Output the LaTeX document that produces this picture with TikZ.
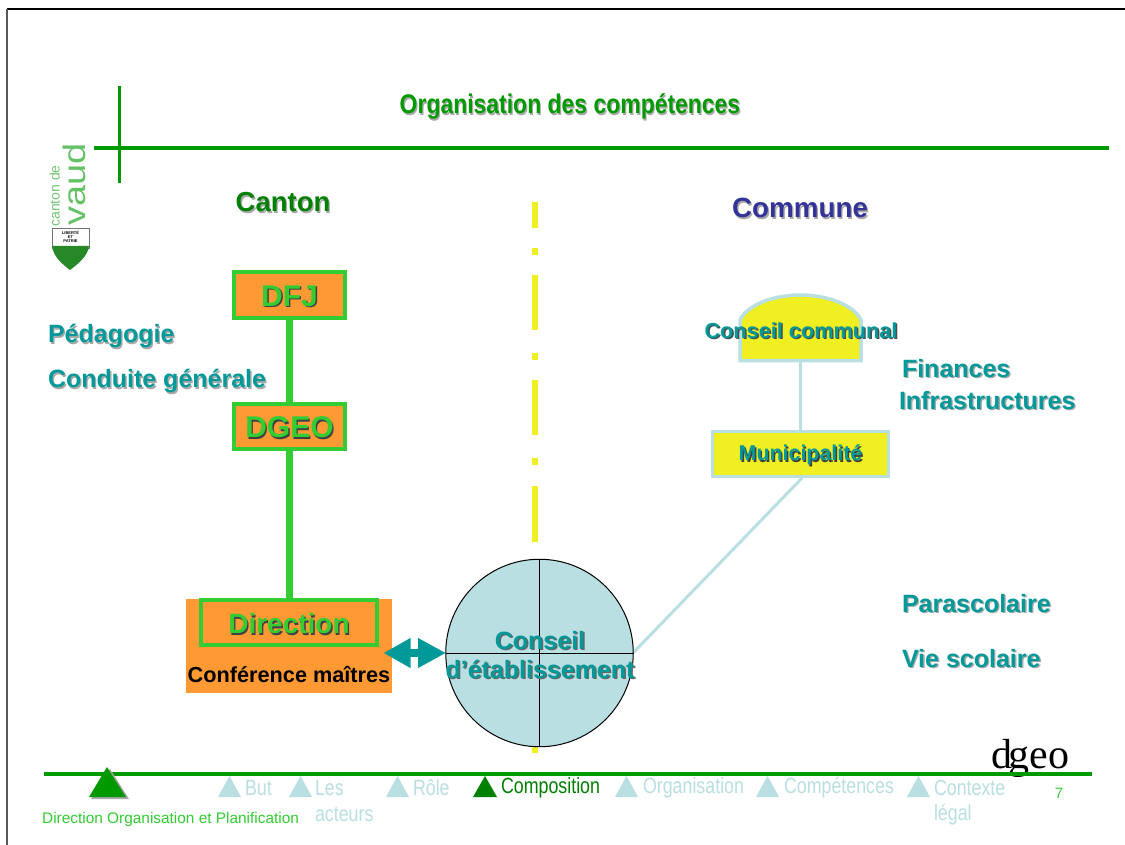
\documentclass[tikz,border=0pt]{standalone}
\usepackage{fontspec}
\usepackage{graphicx}
\setmainfont{Liberation Sans}
\newfontfamily\dgeofont{Liberation Serif}
\usetikzlibrary{arrows.meta}
\definecolor{gtitle}{HTML}{009900}
\definecolor{gdark}{HTML}{008000}
\definecolor{glight}{HTML}{33CC33}
\definecolor{teal1}{HTML}{009999}
\definecolor{pale}{HTML}{B9DFE3}
\definecolor{orange1}{HTML}{FF9933}
\definecolor{yell}{HTML}{EFEF22}
\definecolor{navy1}{HTML}{333399}
\definecolor{shad}{HTML}{A8A8A8}
\newcommand{\shtxt}[3][shad]{\rlap{\hspace{1.4pt}\raisebox{-1.4pt}{\textcolor{#1}{#3}}}\textcolor{#2}{#3}}
\newcommand{\fsz}[1]{\fontsize{#1}{#1}\selectfont}
\newcommand{\dropb}[1]{\raisebox{-2pt}[\height][\depth]{#1}}
\tikzset{
  x=1pt,y=-1pt,
  txt/.style={inner sep=0pt,outer sep=0pt,font=\bfseries},
  side/.style={txt,anchor=west,font=\bfseries\fsz{25}},
  greenbox/.style={draw=glight,line width=4pt,fill=orange1,inner sep=0pt,outer sep=0pt},
  palebox/.style={draw=pale,line width=3.5pt,fill=yell,inner sep=0pt,outer sep=0pt},
  rule/.style={draw=gtitle,line width=3.5pt},
  navtri/.style={fill=pale,draw=none},
  navtxt/.style={inner sep=0pt,outer sep=0pt,anchor=west,font=\fsz{22}},
}
\newcommand{\nav}[2]{\scalebox{.81}[1]{\textcolor{#1}{#2}}}
\begin{document}
\begin{tikzpicture}
\useasboundingbox (0,0) rectangle (1125,845);
\fill[white] (0,0) rectangle (1125,845);
% frame
\draw[black,line width=1.4pt] (7,9) -- (1125,9);
\draw[black!65,line width=1.2pt] (7,9) -- (7,845);
% title rules
\coordinate (vt) at (119,86); \coordinate (vb) at (119,183);
\coordinate (hl) at (94,148); \coordinate (hr) at (1109,148);
\draw[rule,line width=3pt] (vt) -- (vb);
\draw[rule] (hl) -- (hr);
\node[txt,font=\bfseries\fsz{27}] (title) at (570,107.5) {\scalebox{.85}[1]{\shtxt{gtitle}{Organisation des compétences}}};
% logo
\node[inner sep=0pt,rotate=90,text=gtitle!60!white,font=\fsz{38}] (vaud) at (74,184.5) {\scalebox{1}[.82]{vaud}};
\node[inner sep=0pt,rotate=90,text=gtitle!55!white,font=\fsz{14}] (cantonde) at (54.5,196) {canton de};
\path[fill=white,draw=black!55,line width=.8pt] (52,228) -- (89,228) -- (89,248) -- (52,248) -- cycle;
\path[fill=green!45!black!85!white,draw=none] (52,246) -- (89,246) .. controls (88,256) and (78,264) .. (70,270) .. controls (62,264) and (53,256) .. (52,246) -- cycle;
\node[inner sep=0pt,align=center,font=\bfseries\fsz{4}] (devise) at (70.5,237) {LIBERTÉ\\ET\\PATRIE};
% heads
\node[txt,font=\bfseries\fsz{27.5}] (canton) at (283,203) {\shtxt{gdark}{Canton}};
\node[txt,font=\bfseries\fsz{27.8}] (commune) at (800,209) {\shtxt{navy1}{Commune}};
% yellow axis
\coordinate (ya) at (534.8,202); \coordinate (yb) at (534.8,753); \coordinate (yc) at (534.8,735);
\draw[yell,line width=6.5pt,dash pattern=on 26pt off 20pt on 7pt off 20pt on 55pt off 23pt on 7pt off 20pt on 55pt off 23pt on 7pt off 21pt on 56pt off 22pt on 7pt off 20pt] (ya) -- (yc);
\draw[yell,line width=6.5pt] (yc) -- (yb);
% canton chain
\node[fill=orange1,minimum width=206pt,minimum height=94pt,inner sep=0pt,outer sep=0pt] (conf) at (289,646) {};
\node[txt,font=\bfseries\fsz{21.7}] (conftxt) at (289,675) {\textcolor{black}{Conférence maîtres}};
\node[greenbox,minimum width=111pt,minimum height=45pt] (dfj) at (289.5,295) {\dropb{\bfseries\fsz{30}\shtxt[black!75]{glight}{DFJ}}};
\node[greenbox,minimum width=111pt,minimum height=45pt] (dgeo) at (289.5,426) {\dropb{\bfseries\fsz{30}\shtxt[black!75]{glight}{DGEO}}};
\node[greenbox,minimum width=176pt,minimum height=45pt] (dir) at (289,622.5) {\dropb{\bfseries\fsz{28}\shtxt[black!75]{glight}{Direction}}};
\draw[glight,line width=7pt] (dfj) -- (dgeo);
\draw[glight,line width=7pt] (dgeo) -- (dgeo |- dir.north);
% side labels
\node[side] (peda) at (48,337) {\shtxt{teal1}{Pédagogie}};
\node[side] (cond) at (48,382) {\shtxt{teal1}{Conduite générale}};
\node[side] (fin) at (902,369) {\shtxt{teal1}{Finances}};
\node[side] (infra) at (899,401) {\shtxt{teal1}{Infrastructures}};
\node[side] (para) at (902,604) {\shtxt{teal1}{Parascolaire}};
\node[side] (vie) at (902,659) {\shtxt{teal1}{Vie scolaire}};
% commune chain
\path[palebox] (740,360.5) -- (740,320) .. controls (748,304) and (775,295) .. (800.5,295) .. controls (826,295) and (853,304) .. (861,320) -- (861,360.5) -- cycle;
\coordinate (ccb) at (800.5,360.5);
\node[txt,font=\bfseries\fsz{21.7}] (cc) at (801,331.5) {\shtxt[black!70]{teal1}{Conseil communal}};
\node[palebox,minimum width=176pt,minimum height=45pt] (muni) at (800.5,454) {\dropb{\bfseries\fsz{21.4}\shtxt[black!75]{teal1}{Municipalité}}};
\draw[pale,line width=3pt] (ccb) -- (muni);
% circle
\coordinate (mb) at (802,478);
\coordinate (cr) at (633,653);
\draw[pale,line width=3pt] (mb) -- (cr);
\node[circle,draw=black,line width=1pt,fill=pale,minimum size=187.5pt,inner sep=0pt,outer sep=0pt] (ce) at (539.5,653) {};
\draw[black,line width=1pt] (ce.north) -- (ce.south);
\draw[black,line width=1pt] (ce.west) -- (ce.east);
\node[txt,align=center,font=\bfseries\fsz{25}] (cetxt) at (540,655.5) {\shtxt[black!60]{teal1}{Conseil}\\[4pt]\shtxt[black!60]{teal1}{d’établissement}};
% double arrow
\coordinate (al) at (383.5,653); \coordinate (ar) at (446,653);
\draw[teal1,line width=8pt,{Triangle[length=27pt,width=28pt,sep=0pt]}-{Triangle[length=28pt,width=28pt]}] (al) -- (ar);
% footer rule
\coordinate (fl) at (44,774); \coordinate (fr) at (1092,774);
\node[inner sep=0pt,anchor=base,font=\dgeofont\fsz{42}] (dgeologo) at (1030.5,768.5) {d\kern-4.5pt geo};
\draw[rule] (fl) -- (fr);
% big triangle
\path[fill=shad] (110,769) -- (129,799) -- (91,799) -- cycle;
\path[fill=gtitle] (107,767) -- (126,797) -- (89,797) -- cycle;
\node[inner sep=0pt,anchor=west,font=\fsz{15.4},text=glight] (dop) at (42,820) {Direction Organisation et Planification};
% nav
\path[navtri] (229.5,776) -- (241,797) -- (218,797) -- cycle;
\node[navtxt] (n1) at (245,788) {\nav{pale}{But}};
\path[navtri] (300.5,776) -- (312,797) -- (289,797) -- cycle;
\node[navtxt] (n2) at (315,788) {\nav{pale}{Les}};
\node[navtxt] (n2b) at (315,814) {\nav{pale}{acteurs}};
\path[navtri] (397.5,776) -- (409,797) -- (386,797) -- cycle;
\node[navtxt] (n3) at (413,788) {\nav{pale}{Rôle}};
\path[fill=gdark] (485,776) -- (497,797) -- (473,797) -- cycle;
\node[navtxt] (n4) at (501,788) {\nav{gdark}{Composition}};
\path[navtri] (626.5,776) -- (638,797) -- (615,797) -- cycle;
\node[navtxt] (n5) at (643,788) {\nav{pale}{Organisation}};
\path[navtri] (767.5,776) -- (779,797) -- (756,797) -- cycle;
\node[navtxt] (n6) at (784,788) {\nav{pale}{Compétences}};
\path[navtri] (918.5,776) -- (930,797) -- (907,797) -- cycle;
\node[navtxt] (n7) at (934,788) {\nav{pale}{Contexte}};
\node[navtxt] (n7b) at (934,815) {\nav{pale}{légal}};
\node[inner sep=0pt,font=\fsz{15},text=glight] (pg) at (1059,793) {7};
\end{tikzpicture}
\end{document}
